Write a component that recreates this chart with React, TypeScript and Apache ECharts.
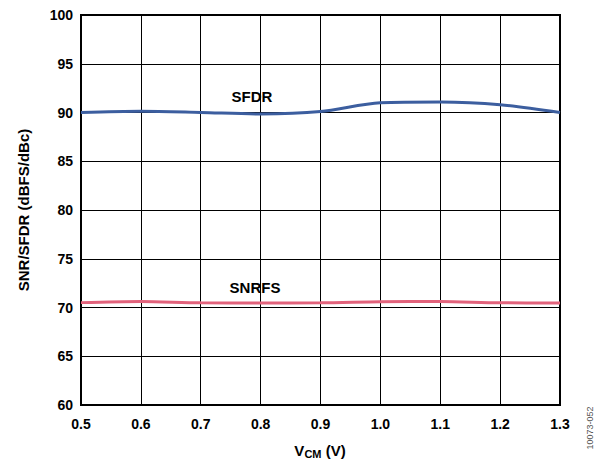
import React, { useEffect, useRef } from "react";
import * as echarts from "echarts";

const vcm = [0.5, 0.6, 0.7, 0.8, 0.9, 1.0, 1.1, 1.2, 1.3];
const sfdr = [90.0, 90.12, 90.0, 89.85, 90.1, 91.0, 91.08, 90.8, 90.0];
const snrfs = [70.5, 70.62, 70.48, 70.47, 70.48, 70.6, 70.62, 70.48, 70.47];

export default function App() {
  const ref = useRef<HTMLDivElement>(null);
  useEffect(() => {
    const chart = echarts.init(ref.current!, null, { renderer: "svg" });
    const font = "Liberation Sans, Arial, sans-serif";
    chart.setOption({
      animation: false,
      grid: { left: 81, right: 37, top: 15, bottom: 55, show: true, borderColor: "#000", borderWidth: 2 },
      xAxis: {
        type: "value",
        min: 0.5,
        max: 1.3,
        interval: 0.1,
        axisLine: { show: true, lineStyle: { color: "#000", width: 2 } },
        axisTick: { show: false },
        splitLine: { show: true, lineStyle: { color: "#000", width: 1 } },
        axisLabel: {
          color: "#000",
          fontFamily: font,
          fontWeight: "bold",
          fontSize: 14,
          margin: 12,
          formatter: (v: number) => v.toFixed(1),
        },
      },
      yAxis: {
        type: "value",
        min: 60,
        max: 100,
        interval: 5,
        axisLine: { show: true, lineStyle: { color: "#000", width: 2 } },
        axisTick: { show: false },
        splitLine: { show: true, lineStyle: { color: "#000", width: 1 } },
        axisLabel: {
          color: "#000",
          fontFamily: font,
          fontWeight: "bold",
          fontSize: 14,
          margin: 8,
        },
      },
      series: [
        {
          name: "SFDR",
          type: "line",
          data: vcm.map((x, i) => [x, sfdr[i]]),
          smooth: 0.3,
          symbol: "none",
          lineStyle: { color: "#3c5e9f", width: 3 },
        },
        {
          name: "SNRFS",
          type: "line",
          data: vcm.map((x, i) => [x, snrfs[i]]),
          smooth: 0.3,
          symbol: "none",
          lineStyle: { color: "#e2637c", width: 3 },
        },
      ],
      graphic: [
        {
          type: "text",
          x: 252,
          y: 96,
          style: {
            text: "SFDR",
            font: `bold 15px ${font}`,
            fill: "#000",
            textAlign: "center",
            textVerticalAlign: "middle",
          },
        },
        {
          type: "text",
          x: 255,
          y: 287,
          style: {
            text: "SNRFS",
            font: `bold 15px ${font}`,
            fill: "#000",
            textAlign: "center",
            textVerticalAlign: "middle",
          },
        },
        {
          type: "text",
          x: 23,
          y: 210,
          rotation: Math.PI / 2,
          style: {
            text: "SNR/SFDR (dBFS/dBc)",
            font: `bold 15px ${font}`,
            fill: "#000",
            textAlign: "center",
            textVerticalAlign: "middle",
          },
        },
        {
          type: "text",
          x: 320,
          y: 450,
          style: {
            text: "{a|V}{b|CM}{a| (V)}",
            textAlign: "center",
            textVerticalAlign: "middle",
            rich: {
              a: { font: `bold 15px ${font}`, fill: "#000", verticalAlign: "middle" },
              b: { font: `bold 11px ${font}`, fill: "#000", padding: [7, 0, 0, 0] },
            },
          },
        },
        {
          type: "text",
          x: 590,
          y: 428,
          rotation: Math.PI / 2,
          style: {
            text: "10073-052",
            font: `9px ${font}`,
            fill: "#555",
            textAlign: "center",
            textVerticalAlign: "middle",
          },
        },
      ],
    });
    return () => chart.dispose();
  }, []);
  return <div ref={ref} style={{ width: 597, height: 460, position: "absolute", left: 0, top: 0 }} />;
}
